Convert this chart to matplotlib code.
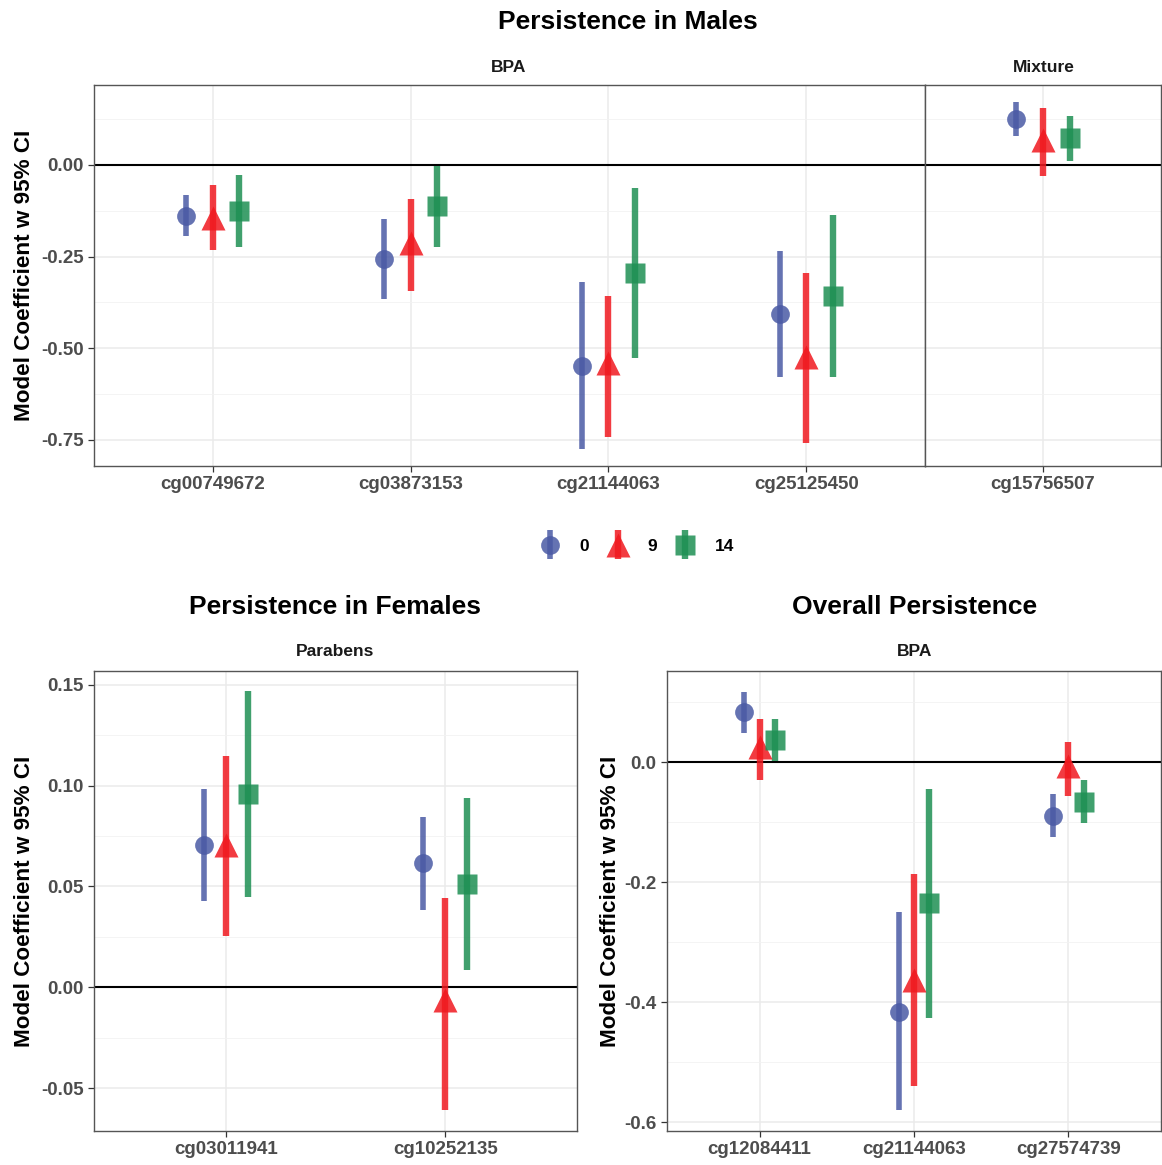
import numpy as np
import matplotlib
matplotlib.use('Agg')
import matplotlib.pyplot as plt
from matplotlib.ticker import MultipleLocator
from matplotlib.legend_handler import HandlerErrorbar
from matplotlib.container import ErrorbarContainer

plt.rcParams['font.family'] = ['Liberation Sans', 'DejaVu Sans']
plt.rcParams['font.weight'] = 'bold'

W, H = 1162, 1165

# ---- data: rows are time points 0, 9, 14 ----
times = ['0', '9', '14']
colors = ['#4A5AA5', '#F0191F', '#1E9054']
markers = ['o', '^', 's']
msizes = [13.5, 17, 14]

male_bpa_cpgs = ['cg00749672', 'cg03873153', 'cg21144063', 'cg25125450']
male_bpa_est = [[-0.139, -0.256, -0.548, -0.406],
                [-0.145, -0.213, -0.540, -0.523],
                [-0.125, -0.112, -0.295, -0.357]]
male_bpa_lo = [[-0.194, -0.366, -0.775, -0.578],
               [-0.232, -0.343, -0.742, -0.758],
               [-0.223, -0.223, -0.526, -0.578]]
male_bpa_hi = [[-0.082, -0.147, -0.319, -0.234],
               [-0.055, -0.093, -0.357, -0.295],
               [-0.027, -0.003, -0.063, -0.136]]

male_mix_cpgs = ['cg15756507']
male_mix_est = [[0.125], [0.068], [0.074]]
male_mix_lo = [[0.079], [-0.030], [0.011]]
male_mix_hi = [[0.172], [0.155], [0.134]]

fem_par_cpgs = ['cg03011941', 'cg10252135']
fem_par_est = [[0.0707, 0.0617], [0.0707, -0.0063], [0.0958, 0.0513]]
fem_par_lo = [[0.0427, 0.0385], [0.0252, -0.0610], [0.0448, 0.0087]]
fem_par_hi = [[0.0982, 0.0846], [0.1148, 0.0443], [0.1467, 0.0939]]

all_bpa_cpgs = ['cg12084411', 'cg21144063', 'cg27574739']
all_bpa_est = [[0.0837, -0.416, -0.0904], [0.025, -0.363, -0.0056], [0.0375, -0.2355, -0.0658]]
all_bpa_lo = [[0.0486, -0.580, -0.1256], [-0.0295, -0.540, -0.0558], [0.0017, -0.427, -0.102]]
all_bpa_hi = [[0.117, -0.2495, -0.053], [0.0727, -0.186, 0.0335], [0.0727, -0.0446, -0.0295]]


def px_axes(l, r, t, b):
    return [l / W, 1 - b / H, (r - l) / W, (b - t) / H]


def style(ax, cats, ylim, major, minor, fmt, show_y=True):
    n = len(cats)
    ax.set_xlim(-0.6, n - 0.4)
    ax.set_ylim(*ylim)
    ax.set_xticks(range(n))
    ax.set_xticklabels(cats)
    ax.yaxis.set_major_locator(MultipleLocator(major))
    ax.yaxis.set_minor_locator(MultipleLocator(minor))
    ax.yaxis.set_major_formatter(plt.FormatStrFormatter(fmt))
    ax.grid(True, which='major', color='#EBEBEB', lw=1.1, zorder=0)
    ax.grid(True, which='minor', axis='y', color='#F2F2F2', lw=0.6, zorder=0)
    ax.set_axisbelow(True)
    for s in ax.spines.values():
        s.set_color('#555555')
        s.set_linewidth(1.0)
    ax.tick_params(which='minor', length=0)
    ax.tick_params(which='major', length=4, color='#333333', width=0.9,
                   labelsize=13.5, labelcolor='#4D4D4D')
    if not show_y:
        ax.tick_params(axis='y', which='both', left=False, labelleft=False)
    ax.axhline(0, color='black', lw=1.5, zorder=1)


def draw(ax, est, lo, hi, dodge, lws):
    handles = []
    for i in range(3):
        x = np.arange(len(est[i])) + (i - 1) * dodge
        y = np.array(est[i])
        err = [y - np.array(lo[i]), np.array(hi[i]) - y]
        h = ax.errorbar(x, y, yerr=err, fmt=markers[i], color=colors[i],
                        ms=msizes[i], mec='none', elinewidth=lws[i],
                        capsize=0, alpha=0.85, zorder=3, label=times[i])
        handles.append(h)
    return handles


def ylab(ax, xpx, left_px, width_px):
    ax.set_ylabel('Model Coefficient w 95% CI', fontsize=16.2, fontweight='bold')
    ax.yaxis.set_label_coords((xpx - left_px) / width_px, 0.5)


fig = plt.figure(figsize=(W / 100, H / 100), dpi=100)

# ---- top: males ----
ax1 = fig.add_axes(px_axes(94, 925, 85, 466))
ax2 = fig.add_axes(px_axes(925, 1161, 85, 466))
style(ax1, male_bpa_cpgs, (-0.821, 0.218), 0.25, 0.125, '%.2f')
style(ax2, male_mix_cpgs, (-0.821, 0.218), 0.25, 0.125, '%.2f', show_y=False)
handles = draw(ax1, male_bpa_est, male_bpa_lo, male_bpa_hi, 0.135, [4, 4.6, 4.6])
draw(ax2, male_mix_est, male_mix_lo, male_mix_hi, 0.135, [4, 4.6, 4.6])
ylab(ax1, 35, 94, 831)

# ---- bottom left: females ----
ax3 = fig.add_axes(px_axes(94, 577, 671, 1131))
style(ax3, fem_par_cpgs, (-0.0713, 0.1568), 0.05, 0.025, '%.2f')
draw(ax3, fem_par_est, fem_par_lo, fem_par_hi, 0.1, [4, 4.6, 4.6])
ylab(ax3, 35, 94, 483)

# ---- bottom right: overall ----
ax4 = fig.add_axes(px_axes(667, 1161, 671, 1131))
style(ax4, all_bpa_cpgs, (-0.615, 0.152), 0.2, 0.1, '%.1f')
draw(ax4, all_bpa_est, all_bpa_lo, all_bpa_hi, 0.1, [4, 4.6, 4.6])
ylab(ax4, 621, 667, 494)

# ---- titles and strip labels ----
def ftext(x, y, s, size):
    fig.text(x / W, 1 - y / H, s, ha='center', va='center', fontsize=size,
             fontweight='bold', color='black' if size > 14 else '#1A1A1A')

ftext(628, 22, 'Persistence in Males', 19)
ftext(335, 607, 'Persistence in Females', 19)
ftext(915, 607, 'Overall Persistence', 19)
ftext(509, 67, 'BPA', 12.5)
ftext(1044, 67, 'Mixture', 12.5)
ftext(335, 652, 'Parabens', 12.5)
ftext(915, 652, 'BPA', 12.5)

fig.legend(handles=handles, labels=times, loc='center', ncol=3,
           bbox_to_anchor=(635 / W, 1 - 546 / H), frameon=False,
           prop={'size': 12.5, 'weight': 'bold'}, handlelength=1.6,
           handletextpad=0.9, columnspacing=0.85,
           handler_map={ErrorbarContainer: HandlerErrorbar(yerr_size=0.85)})

fig.savefig('out.png', dpi=100)
